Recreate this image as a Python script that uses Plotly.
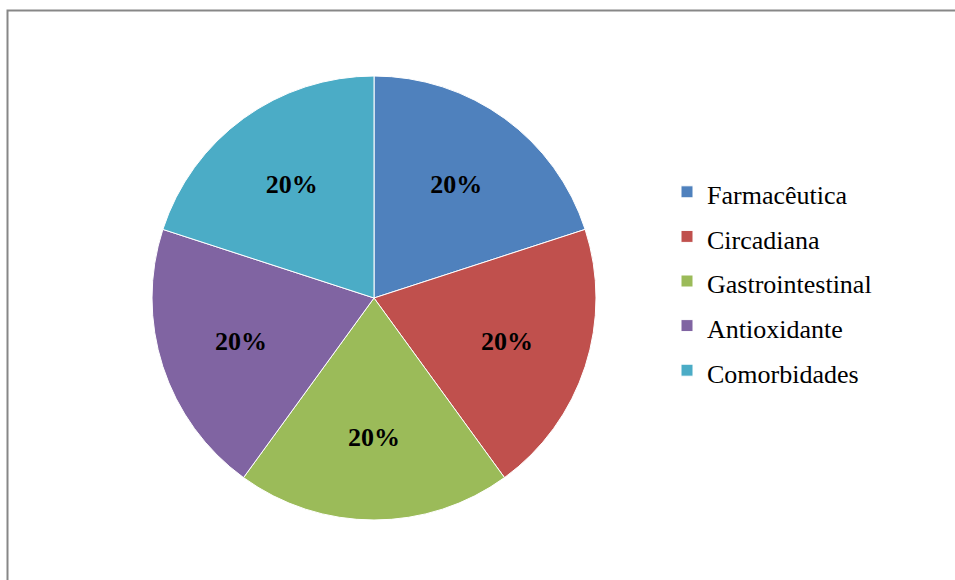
import plotly.graph_objects as go

categories = ["Farmacêutica", "Circadiana", "Gastrointestinal", "Antioxidante", "Comorbidades"]
values = [20, 20, 20, 20, 20]
colors = ["#4F81BD", "#C0504D", "#9BBB59", "#8064A2", "#4BACC6"]

W, H = 955, 580
cx, cy, R = 374, 298, 222
LEG_FS = 26

legend_labels = [f"<span style='font-size:{LEG_FS}px'>{c}</span>" for c in categories]

fig = go.Figure(go.Pie(
    labels=legend_labels,
    values=values,
    sort=False,
    direction="clockwise",
    rotation=0,
    marker=dict(colors=colors, line=dict(color="white", width=1)),
    textinfo="percent",
    texttemplate="%{percent:.0%}",
    textposition="inside",
    insidetextorientation="horizontal",
    textfont=dict(family="Liberation Serif", size=26, color="black", weight="bold"),
    domain=dict(x=[(cx - R) / W, (cx + R) / W], y=[1 - (cy + R) / H, 1 - (cy - R) / H]),
    hoverinfo="percent",
))

fig.update_layout(
    width=W, height=H,
    margin=dict(l=0, r=0, t=0, b=0),
    paper_bgcolor="white",
    plot_bgcolor="white",
    font=dict(family="Liberation Serif", color="black"),
    legend=dict(
        x=667 / W, y=1 - 281 / H, xanchor="left", yanchor="middle",
        font=dict(family="Liberation Serif", size=32, color="black"),
        bgcolor="rgba(0,0,0,0)",
    ),
    shapes=[dict(
        type="rect", xref="paper", yref="paper",
        x0=7.5 / W, x1=1.1, y0=-0.1, y1=1 - 10.5 / H,
        line=dict(color="#878787", width=2),
        fillcolor="rgba(0,0,0,0)",
    )],
)

fig.write_html("out.html")
